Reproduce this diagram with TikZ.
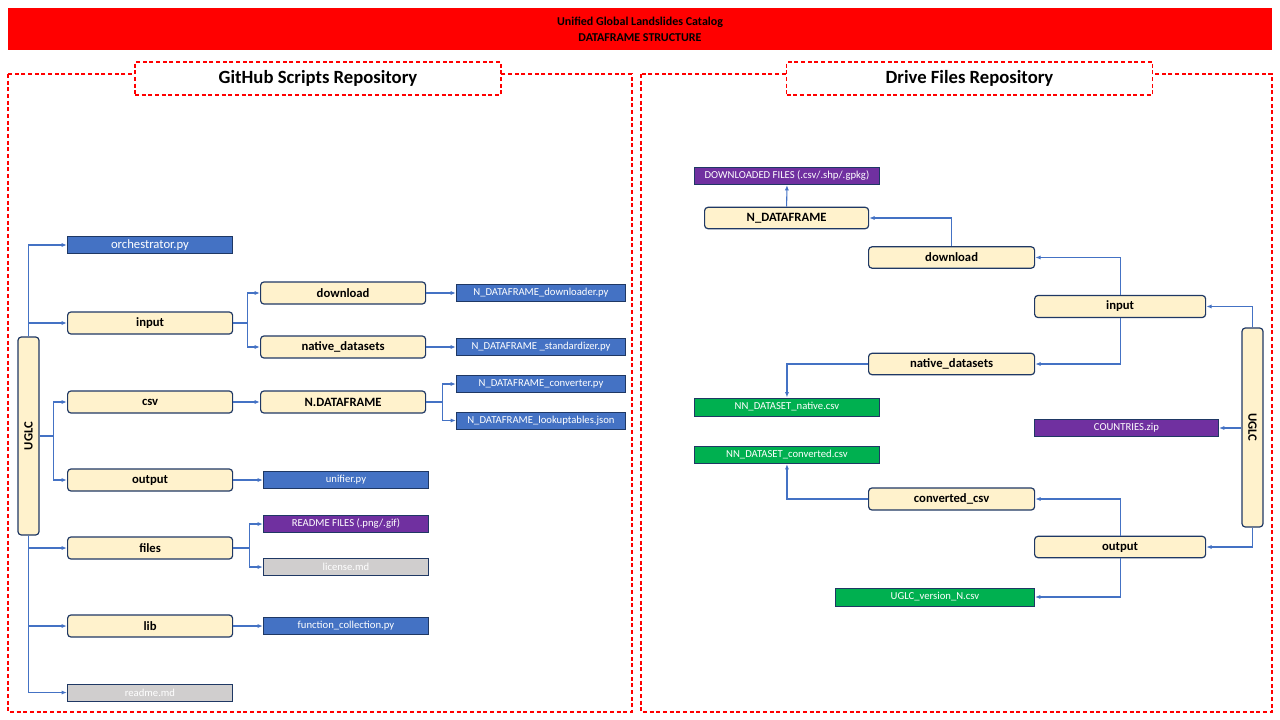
\documentclass[tikz,border=0pt]{standalone}
\usepackage{fontspec}
\setmainfont{Carlito}
\usetikzlibrary{arrows.meta}
\definecolor{cream}{HTML}{FFF2CC}
\definecolor{navy}{HTML}{1F3864}
\definecolor{fblue}{HTML}{4472C4}
\definecolor{fpurple}{HTML}{7030A0}
\definecolor{fgreen}{HTML}{00B050}
\definecolor{fgrey}{HTML}{D0CECE}
\tikzset{
  dirbox/.style={draw=navy, line width=0.9pt, fill=cream, rounded corners=2.5pt, inner sep=0pt, font=\fontsize{9.5}{11}\selectfont\bfseries},
  filebox/.style={draw=navy, line width=0.7pt, fill=#1, text=white, inner sep=0pt, font=\fontsize{8}{9}\selectfont},
  ldir/.style={dirbox, anchor=west, minimum width=123.75pt, minimum height=16.5pt},
  rdir/.style={dirbox, anchor=west, minimum width=124.5pt, minimum height=16pt},
  lfile/.style={filebox=#1, anchor=west, minimum width=123.75pt, minimum height=12.75pt},
  tfile/.style={filebox=#1, anchor=west, minimum width=126.75pt, minimum height=12.75pt},
  link/.style={draw=fblue, line width=0.8pt, -{Latex[length=4pt,width=3pt]}},
  frame/.style={draw=red, line width=0.8pt, dash pattern=on 3pt off 2pt},
  panelhead/.style={frame, fill=white, minimum width=274.5pt, minimum height=24.75pt, text depth=2pt, font=\fontsize{14}{16}\selectfont\bfseries},
}
\begin{document}
\begin{tikzpicture}[x=0.75pt, y=-0.75pt]
\useasboundingbox (0,0) rectangle (1280,720);
\node[fill=red, minimum width=948pt, minimum height=31.5pt, align=center, font=\fontsize{9}{12}\selectfont\bfseries] (banner) at (640,29) {Unified Global Landslides Catalog\\DATAFRAME STRUCTURE};
\draw[frame] (8,74) rectangle (632,712);
\draw[frame] (641,74) rectangle (1272,712);
\node[panelhead] (ghhead) at (318,78.5) {GitHub Scripts Repository};
\node[panelhead] (drhead) at (969.5,78.5) {Drive Files Repository};

\node[dirbox, minimum width=15.75pt, minimum height=148.5pt] (uglcL) at (28.5,436) {\rotatebox{90}{UGLC}};
\node[lfile=fblue, font=\fontsize{9.5}{11}\selectfont] (orch) at (67,245) {orchestrator.py};
\node[ldir] (inL) at (67,323) {input};
\node[ldir] (csvL) at (67,402) {csv};
\node[ldir] (outL) at (67,480) {output};
\node[ldir] (filesL) at (67,548) {files};
\node[ldir] (libL) at (67,626) {lib};
\node[lfile=fgrey] (readme) at (67,692.5) {readme.md};
\node[ldir] (dlL) at (260,293) {download};
\node[ldir] (natL) at (260,347) {native\_datasets};
\node[ldir] (ndfL) at (260,402) {N.DATAFRAME};
\node[lfile=fblue] (unif) at (263,480) {unifier.py};
\node[lfile=fpurple] (rdfiles) at (263,524) {README FILES (.png/.gif)};
\node[lfile=fgrey] (lic) at (263,567) {license.md};
\node[lfile=fblue] (funcs) at (263,626) {function\_collection.py};
\node[tfile=fblue] (dlpy) at (456,293) {N\_DATAFRAME\_downloader.py};
\node[tfile=fblue] (stpy) at (456,347) {N\_DATAFRAME \_standardizer.py};
\node[tfile=fblue] (cvpy) at (456,384) {N\_DATAFRAME\_converter.py};
\node[tfile=fblue] (lkjs) at (456,420.5) {N\_DATAFRAME\_lookuptables.json};

\draw[link] (uglcL.north) |- (orch.west);
\draw[link] (uglcL.north) |- (inL.west);
\draw[link] (uglcL.east) -- +(14,0) |- (csvL.west);
\draw[link] (uglcL.east) -- +(14,0) |- (outL.west);
\draw[link] (uglcL.south) |- (filesL.west);
\draw[link] (uglcL.south) |- (libL.west);
\draw[link] (uglcL.south) |- (readme.west);
\draw[link] (inL.east) -- +(14,0) |- (dlL.west);
\draw[link] (inL.east) -- +(14,0) |- (natL.west);
\draw[link] (csvL.east) -- (ndfL.west);
\draw[link] (outL.east) -- (unif.west);
\draw[link] (filesL.east) -- +(16,0) |- (rdfiles.west);
\draw[link] (filesL.east) -- +(16,0) |- (lic.west);
\draw[link] (libL.east) -- (funcs.west);
\draw[link] (dlL.east) -- (dlpy.west);
\draw[link] (natL.east) -- (stpy.west);
\draw[link] (ndfL.east) -- +(16,0) |- (cvpy.west);
\draw[link] (ndfL.east) -- +(16,0) |- (lkjs.west);

\node[filebox=fpurple, anchor=west, minimum width=138.75pt, minimum height=12.75pt] (dlfiles) at (694,176) {DOWNLOADED FILES (.csv/.shp/.gpkg)};
\node[rdir, minimum width=123pt] (ndfR) at (704,218) {N\_DATAFRAME};
\node[rdir] (dlR) at (868,257.5) {download};
\node[rdir, minimum width=128.25pt, minimum height=16.5pt] (inR) at (1034,306.5) {input};
\node[rdir] (natR) at (868,364) {native\_datasets};
\node[filebox=fgreen, anchor=west, minimum width=138.75pt, minimum height=13.5pt] (nnnat) at (694,407) {NN\_DATASET\_native.csv};
\node[filebox=fpurple, anchor=west, minimum width=138pt, minimum height=12.75pt] (countries) at (1034,428) {COUNTRIES.zip};
\node[dirbox, minimum width=15.75pt, minimum height=149.25pt] (uglcR) at (1252.5,427.5) {\rotatebox{-90}{UGLC}};
\node[filebox=fgreen, anchor=west, minimum width=138.75pt, minimum height=12.75pt] (nnconv) at (694,455) {NN\_DATASET\_converted.csv};
\node[rdir, minimum height=16.5pt] (convR) at (868,499) {converted\_csv};
\node[rdir, minimum width=128.25pt] (outR) at (1034,547) {output};
\node[filebox=fgreen, anchor=west, minimum width=149.25pt, minimum height=13.5pt] (uglcver) at (835,597) {UGLC\_version\_N.csv};

\draw[link] (uglcR.north) |- (inR.east);
\draw[link] (uglcR.south) |- (outR.east);
\draw[link] (uglcR.west |- countries.east) -- (countries.east);
\draw[link] (inR.north) |- (dlR.east);
\draw[link] (inR.south) |- (natR.east);
\draw[link] (dlR.north) |- (ndfR.east);
\draw[link] (ndfR.north) -- (dlfiles.south);
\draw[link] (natR.west) -| (nnnat.north);
\draw[link] (convR.west) -| (nnconv.south);
\draw[link] (outR.north) |- (convR.east);
\draw[link] (outR.south) |- (uglcver.east);
\end{tikzpicture}
\end{document}
